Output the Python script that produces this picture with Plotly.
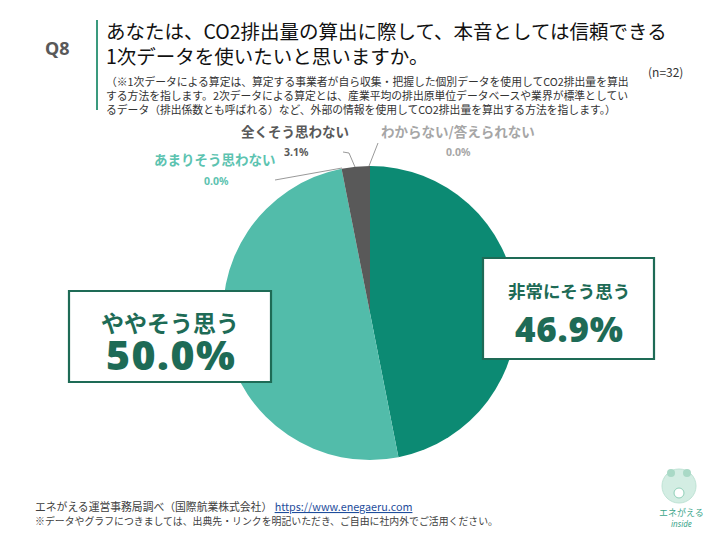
import plotly.graph_objects as go

# ---- data ----
labels = ["非常にそう思う", "ややそう思う", "あまりそう思わない", "全くそう思わない", "わからない/答えられない"]
values = [46.9, 50.0, 0.0, 3.1, 0.0]
slice_colors = ["#0c8a73", "#52bcaa", "#52bcaa", "#595959", "#a6a6a6"]
n_total = 32

title_lines = ["あなたは、CO2排出量の算出に際して、本音としては信頼できる",
               "1次データを使いたいと思いますか。"]
note_lines = [
    "（※1次データによる算定は、算定する事業者が自ら収集・把握した個別データを使用してCO2排出量を算出",
    "する方法を指します。2次データによる算定とは、産業平均の排出原単位データベースや業界が標準としてい",
    "るデータ（排出係数とも呼ばれる）など、外部の情報を使用してCO2排出量を算出する方法を指します。）",
]
source_text = "エネがえる運営事務局調べ（国際航業株式会社）"
source_url = "https://www.enegaeru.com"
usage_note = "※データやグラフにつきましては、出典先・リンクを明記いただき、ご自由に社内外でご活用ください。"

W, H = 720, 540
def fx(x): return x / W
def fy(y): return 1 - y / H

JP = "Noto Sans CJK JP"
NUM = "Noto Sans, Noto Sans CJK JP"
DARK = "#1e6b56"

fig = go.Figure()
cx, cy, r = 370, 313, 147
fig.add_trace(go.Pie(
    labels=labels, values=values, sort=False, direction="clockwise", rotation=0,
    marker=dict(colors=slice_colors, line=dict(width=0)),
    textinfo="none", hoverinfo="label+percent", showlegend=False,
    domain=dict(x=[fx(cx - r), fx(cx + r)], y=[fy(cy + r), fy(cy - r)]),
))

ann = []
shapes = []

# header
ann.append(dict(x=fx(57), y=fy(48), text="<b>Q8</b>", font=dict(family=NUM, size=18, color="#595959"),
                showarrow=False, xanchor="center", yanchor="middle"))
shapes.append(dict(type="line", xref="paper", yref="paper", x0=fx(97), x1=fx(97), y0=fy(20), y1=fy(110),
                   line=dict(color="#3a9a7e", width=2)))
ann.append(dict(x=fx(104), y=fy(43), text="<br>".join(title_lines),
                font=dict(family=JP, size=19.5, color="#111111"),
                showarrow=False, xanchor="left", yanchor="middle", align="left"))
ann.append(dict(x=fx(104), y=fy(95), text="<br>".join(note_lines),
                font=dict(family=JP, size=10.8, color="#333333"),
                showarrow=False, xanchor="left", yanchor="middle", align="left"))
ann.append(dict(x=fx(665), y=fy(72), text=f"(n={n_total})", font=dict(family=JP, size=12, color="#333333"),
                showarrow=False, xanchor="center", yanchor="middle"))

# small outside labels
small = [
    (3, 295, 131, 152, "#595959"),
    (4, 458, 131, 152, "#a6a6a6"),
    (2, 215, 159, 181, "#5cc3b0"),
]
for idx, x, y1, y2, col in small:
    ann.append(dict(x=fx(x), y=fy(y1), text=f"<b>{labels[idx]}</b>", font=dict(family=JP, size=13.5, color=col),
                    showarrow=False, xanchor="center", yanchor="middle"))
    ann.append(dict(x=fx(x + 1), y=fy(y2), text=f"<b>{values[idx]:.1f}%</b>", font=dict(family=NUM, size=10.5, color=col),
                    showarrow=False, xanchor="center", yanchor="middle"))

# leader lines
def seg(pts, color="#7f7f7f"):
    path = "M " + " L ".join(f"{fx(x)},{fy(y)}" for x, y in pts)
    shapes.append(dict(type="path", xref="paper", yref="paper", path=path, line=dict(color=color, width=0.8)))
seg([(275, 180), (342, 168)])
seg([(343, 152), (349, 153), (355, 167)])
seg([(378, 143), (369, 166)])

# big boxes
boxes = [
    (1, 69, 291, 271, 382, 23, 41, 1.5, 322, 354),
    (0, 483, 258, 654, 359, 17.5, 35, 0.8, 290, 328),
]
for idx, x0, y0, x1, y1, fs1, fs2, ls, ty1, ty2 in boxes:
    shapes.append(dict(type="rect", xref="paper", yref="paper", x0=fx(x0), x1=fx(x1), y0=fy(y1), y1=fy(y0),
                       fillcolor="white", line=dict(color=DARK, width=2.2)))
    xc = (x0 + x1) / 2
    ann.append(dict(x=fx(xc), y=fy(ty1), text=f"<b>{labels[idx]}</b>", font=dict(family=JP, size=fs1, color=DARK),
                    showarrow=False, xanchor="center", yanchor="middle"))
    ann.append(dict(x=fx(xc + 1), y=fy(ty2),
                    text=f"<span style='letter-spacing:{ls}px'>{values[idx]:.1f}%</span>",
                    font=dict(family=NUM, size=fs2, color=DARK, weight=900),
                    showarrow=False, xanchor="center", yanchor="middle"))

# footer
ann.append(dict(x=fx(33), y=fy(506),
                text=f"{source_text} <a href='{source_url}' style='color:#1f4e9c'><u>{source_url}</u></a>",
                font=dict(family=JP, size=10.8, color="#404040"), showarrow=False, xanchor="left", yanchor="middle"))
ann.append(dict(x=fx(33), y=fy(521), text=usage_note, font=dict(family=JP, size=9.9, color="#404040"),
                showarrow=False, xanchor="left", yanchor="middle"))

# logo
shapes.append(dict(type="circle", xref="paper", yref="paper", x0=fx(662), x1=fx(696), y0=fy(503), y1=fy(469),
                   fillcolor="#d3ede3", line=dict(color="#bfe3d5", width=1)))
shapes.append(dict(type="circle", xref="paper", yref="paper", x0=fx(667), x1=fx(675), y0=fy(477), y1=fy(469),
                   fillcolor="#a9d9c6", line=dict(width=0)))
shapes.append(dict(type="circle", xref="paper", yref="paper", x0=fx(683), x1=fx(691), y0=fy(477), y1=fy(469),
                   fillcolor="#a9d9c6", line=dict(width=0)))
shapes.append(dict(type="circle", xref="paper", yref="paper", x0=fx(674), x1=fx(684), y0=fy(498), y1=fy(488),
                   fillcolor="white", line=dict(color="#8fcfb8", width=1)))
ann.append(dict(x=fx(681), y=fy(512), text="エネがえる", font=dict(family=JP, size=9, color="#3aa58a"),
                showarrow=False, xanchor="center", yanchor="middle"))
ann.append(dict(x=fx(681), y=fy(523), text="<i>inside</i>", font=dict(family=NUM, size=8, color="#3aa58a"),
                showarrow=False, xanchor="center", yanchor="middle"))

for a in ann:
    a.setdefault("xref", "paper")
    a.setdefault("yref", "paper")

fig.update_layout(width=W, height=H, margin=dict(l=0, r=0, t=0, b=0),
                  paper_bgcolor="white", plot_bgcolor="white",
                  annotations=ann, shapes=shapes)
fig.write_html("out.html")
